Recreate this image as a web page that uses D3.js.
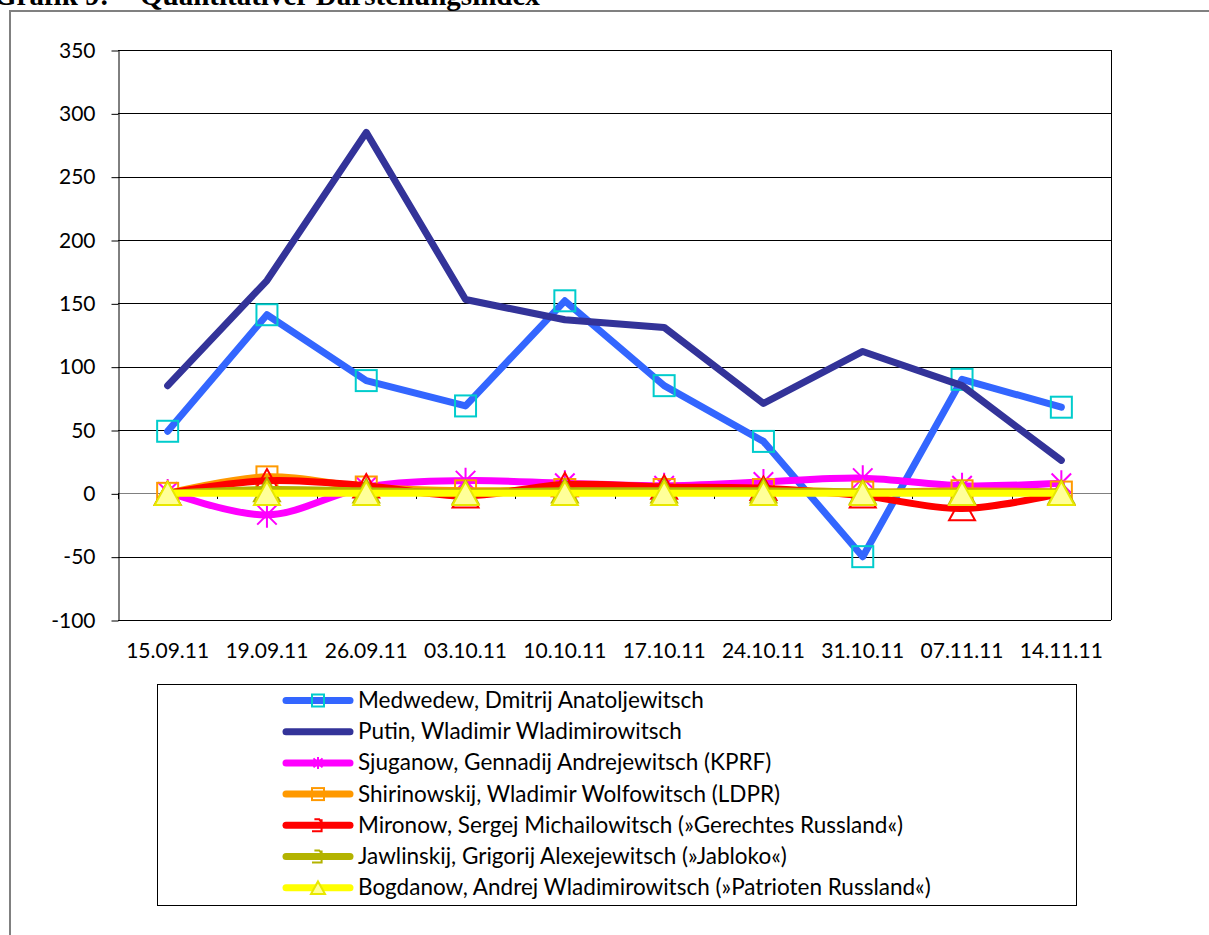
<!DOCTYPE html>
<html>
<head>
<meta charset="utf-8">
<script src="https://cdn.jsdelivr.net/npm/d3@7"></script>
<style>
  body { margin: 0; background: #fff; }
  text { font-family: Lato, "Noto Sans", sans-serif; fill: #000; }
</style>
</head>
<body>
<div class="chart"></div>
<script>
// data
var dates = ["15.09.11", "19.09.11", "26.09.11", "03.10.11", "10.10.11",
             "17.10.11", "24.10.11", "31.10.11", "07.11.11", "14.11.11"];
var yTicks = [-100, -50, 0, 50, 100, 150, 200, 250, 300, 350];

var medwedew     = [49, 141, 89, 69, 152, 85, 41, -50, 90, 68];
var putin        = [85, 168, 285, 153, 137, 131, 71, 112, 85, 26];
var sjuganow     = [1, -17, 5, 10, 8, 6, 9, 12, 6, 8];
var shirinowskij = [0, 13, 5, 2, 3, 3, 3, 1, 2, 1];
var mironow      = [0, 10, 6, -2, 7, 5, 4, -2, -12, 0];
var jawlinskij   = [0, 3, 2, 1, 2, 2, 2, 1, 1, 1];
var bogdanow     = [0, 0, 0, 0, 0, 0, 0, 0, 0, 0];

var names = [
  "Medwedew, Dmitrij Anatoljewitsch",
  "Putin, Wladimir Wladimirowitsch",
  "Sjuganow, Gennadij Andrejewitsch (KPRF)",
  "Shirinowskij, Wladimir Wolfowitsch (LDPR)",
  "Mironow, Sergej Michailowitsch (»Gerechtes Russland«)",
  "Jawlinskij, Grigorij Alexejewitsch (»Jabloko«)",
  "Bogdanow, Andrej Wladimirowitsch (»Patrioten Russland«)"
];

// styles per series (same order as names)
var styles = [
  {color: "#3366FF", marker: "square",   legendMarker: "square", mColor: "#00CCCC", fill: "none",    smooth: false},
  {color: "#333399", marker: null,       legendMarker: null,     mColor: null,      fill: "none",    smooth: false},
  {color: "#FF00FF", marker: "star",     legendMarker: "star",   mColor: "#FF00FF", fill: "none",    smooth: true},
  {color: "#FF9900", marker: "square",   legendMarker: "square", mColor: "#FF9900", fill: "none",    smooth: true},
  {color: "#FF0000", marker: "triangle", legendMarker: "hook",   mColor: "#FF0000", fill: "none",    smooth: true},
  {color: "#B3B300", marker: "triangle", legendMarker: "hook",   mColor: "#B3B300", fill: "none",    smooth: true},
  {color: "#FFFF00", marker: "triangle", legendMarker: "triangle", mColor: "#E8E800", fill: "#FFFF99", smooth: true}
];

var seriesValues = [medwedew, putin, sjuganow, shirinowskij, mironow, jawlinskij, bogdanow];

var svgWidth = 1209;
var svgHeight = 935;

var margin = {top: 50, right: 98, bottom: 315, left: 118};
var width = svgWidth - margin.left - margin.right;
var height = svgHeight - margin.top - margin.bottom;

var svg = d3.select(".chart")
  .append("svg")
  .attr("width", svgWidth)
  .attr("height", svgHeight);

// outer frame + title (cut at the top edge as in the source)
svg.append("rect")
  .attr("x", 10).attr("y", 11)
  .attr("width", 1400).attr("height", 1000)
  .attr("fill", "none")
  .attr("stroke", "#808080")
  .attr("stroke-width", 2);

svg.append("text")
  .attr("x", -6).attr("y", 5)
  .style("font-family", "'Liberation Serif', serif")
  .style("font-weight", "bold")
  .style("font-size", "29px")
  .text("Grafik 9:");

svg.append("text")
  .attr("x", 140).attr("y", 5)
  .style("font-family", "'Liberation Serif', serif")
  .style("font-weight", "bold")
  .style("font-size", "29px")
  .text("Quantitativer Darstellungsindex");

var chartGroup = svg.append("g")
  .attr("transform", `translate(${margin.left}, ${margin.top})`);

var xScale = d3.scaleBand()
  .domain(dates)
  .range([0, width]);

var yScale = d3.scaleLinear()
  .domain([-100, 350])
  .range([height, 0]);

var xc = d => xScale(d) + xScale.bandwidth() / 2;

// gridlines
chartGroup.append("g")
  .selectAll("line")
  .data(yTicks)
  .enter()
  .append("line")
    .attr("x1", 0)
    .attr("x2", width)
    .attr("y1", d => Math.round(yScale(d)) + 0.5)
    .attr("y2", d => Math.round(yScale(d)) + 0.5)
    .attr("stroke", d => d === 0 ? "#808080" : "#000")
    .attr("stroke-width", 1);

// plot border right side
chartGroup.append("line")
  .attr("x1", width + 0.5).attr("x2", width + 0.5)
  .attr("y1", 0).attr("y2", height)
  .attr("stroke", "#000");

// category ticks on the zero line
var boundaries = dates.map(d => xScale(d)).concat([width]);
chartGroup.append("g")
  .selectAll("line")
  .data(boundaries)
  .enter()
  .append("line")
    .attr("x1", d => Math.round(d) + 0.5)
    .attr("x2", d => Math.round(d) + 0.5)
    .attr("y1", Math.round(yScale(0)))
    .attr("y2", Math.round(yScale(0)) + 6)
    .attr("stroke", "#000");

// y axis
var leftAxis = d3.axisLeft(yScale)
  .tickValues(yTicks)
  .tickFormat(d => String(d))
  .tickSize(7)
  .tickSizeOuter(0)
  .tickPadding(16);

var yAxisG = chartGroup.append("g")
  .attr("transform", "translate(0.5, 0.5)")
  .call(leftAxis);
yAxisG.selectAll("text")
  .style("font-size", "21px")
  .style("font-family", "Lato, 'Noto Sans', sans-serif");
yAxisG.selectAll("line, path").attr("stroke", "#000");

// x labels
chartGroup.append("g")
  .selectAll("text")
  .data(dates)
  .enter()
  .append("text")
    .attr("x", d => xc(d))
    .attr("y", height + 38)
    .attr("text-anchor", "middle")
    .style("font-size", "21px")
    .text(d => d);

// marker drawing
function drawMarker(g, type, size, st) {
  if (type === "square") {
    g.append("rect")
      .attr("x", -size / 2).attr("y", -size / 2)
      .attr("width", size).attr("height", size)
      .attr("fill", st.fill)
      .attr("stroke", st.mColor)
      .attr("stroke-width", 2);
  } else if (type === "star") {
    var r = size / 2;
    var d = r * 0.75;
    g.append("path")
      .attr("d", `M0,${-r}V${r}M${-d},${-d}L${d},${d}M${d},${-d}L${-d},${d}`)
      .attr("stroke", st.mColor)
      .attr("stroke-width", 2)
      .attr("fill", "none");
  } else if (type === "triangle") {
    var h = size * 0.9;
    g.append("path")
      .attr("d", `M0,${-h / 2}L${size / 2},${h / 2}L${-size / 2},${h / 2}Z`)
      .attr("fill", st.fill)
      .attr("stroke", st.mColor)
      .attr("stroke-width", 2);
  } else if (type === "hook") {
    var s = size / 2;
    g.append("path")
      .attr("d", `M${-s * 0.6},${-s}L${s * 0.2},${-s}L${s * 0.6},${-s * 0.5}M${s * 0.6},${-s}V${s}H${-s}`)
      .attr("stroke", st.mColor)
      .attr("stroke-width", 2)
      .attr("fill", "none");
  }
}

// series
seriesValues.forEach(function(vals, i) {
  var st = styles[i];
  var line = d3.line()
    .x((v, j) => xc(dates[j]))
    .y(v => yScale(v))
    .curve(st.smooth ? d3.curveCatmullRom.alpha(0) : d3.curveLinear);

  var g = chartGroup.append("g");
  g.append("path")
    .datum(vals)
    .attr("d", line)
    .attr("fill", "none")
    .attr("stroke", st.color)
    .attr("stroke-width", 7)
    .attr("stroke-linecap", "round")
    .attr("stroke-linejoin", "round");

  if (st.marker) {
    vals.forEach(function(v, j) {
      var mg = g.append("g")
        .attr("transform", `translate(${xc(dates[j])}, ${yScale(v)})`);
      drawMarker(mg, st.marker, st.marker === "square" ? 21 : 26, st);
    });
  }
});

// legend
var legend = svg.append("g");
legend.append("rect")
  .attr("x", 157.5).attr("y", 684.5)
  .attr("width", 919).attr("height", 221)
  .attr("fill", "none")
  .attr("stroke", "#000");

names.forEach(function(name, i) {
  var st = styles[i];
  var cy = 700.5 + i * 31.2;
  legend.append("line")
    .attr("x1", 286).attr("x2", 350)
    .attr("y1", cy).attr("y2", cy)
    .attr("stroke", st.color)
    .attr("stroke-width", 7)
    .attr("stroke-linecap", "round");
  if (st.legendMarker) {
    var mg = legend.append("g").attr("transform", `translate(318, ${cy})`);
    drawMarker(mg, st.legendMarker, st.legendMarker === "triangle" ? 14 : 12, st);
  }
  legend.append("text")
    .attr("x", 358)
    .attr("y", cy + 7.5)
    .style("font-size", "22.5px")
    .text(name);
});
</script>
</body>
</html>
